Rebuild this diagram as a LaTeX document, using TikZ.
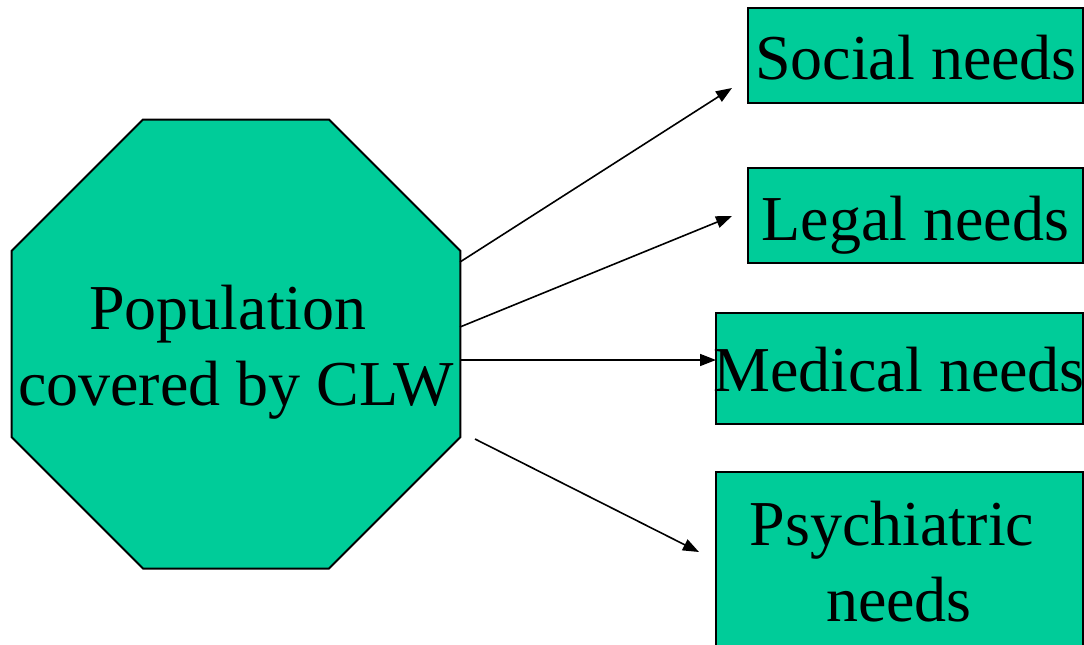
\documentclass[tikz,border=0pt]{standalone}
\usepackage{fontspec}
\setmainfont{Liberation Serif}
\usetikzlibrary{shapes.geometric,arrows.meta}
\definecolor{tealfill}{HTML}{00CC99}
\begin{document}
\begin{tikzpicture}[x=1pt,y=-1pt,
  shapebox/.style={draw=black,line width=2pt,fill=tealfill,inner sep=0pt,outer sep=0pt},
  lbl/.style={font=\fontsize{64}{76}\selectfont,inner sep=0pt,anchor=base},
  conn/.style={line width=1.6pt,-{Triangle[length=16pt,width=12pt]}}]
\clip (0,0) rectangle (1084,645);
% central octagon
\node[shapebox, regular polygon, regular polygon sides=8, minimum size=486pt] (oct) at (236,344) {};
\node[lbl] (pop1) at (228,329) {Population};
\node[lbl] (pop2) at (236,405) {covered by CLW};
% boxes
\node[shapebox, anchor=north west, minimum width=335pt, minimum height=95pt] (social) at (748,8) {};
\node[shapebox, anchor=north west, minimum width=335pt, minimum height=95pt] (legal) at (748,168) {};
\node[shapebox, anchor=north west, minimum width=367pt, minimum height=111pt] (medical) at (716,313) {};
\node[shapebox, anchor=north west, minimum width=367pt, minimum height=200pt] (psych) at (716,472) {};
\node[lbl] (socialtxt) at (916,79) {Social needs};
\node[lbl] (legaltxt) at (915.5,240) {Legal needs};
\node[lbl] (medicaltxt) at (899,391) {Medical needs};
\node[lbl] (psychtxt1) at (892,545) {Psychiatric};
\node[lbl] (psychtxt2) at (899,621) {needs};
% connector end points
\coordinate (a1s) at (460,262);
\coordinate (a1e) at (732,88);
\coordinate (a2s) at (460,327);
\coordinate (a2e) at (732,216);
\coordinate (a3s) at (460,360);
\coordinate (a3e) at (716,360);
\coordinate (a4s) at (475,439);
\coordinate (a4e) at (699,552);
\draw[conn] (a1s) -- (a1e);
\draw[conn] (a2s) -- (a2e);
\draw[conn] (a3s) -- (a3e);
\draw[conn] (a4s) -- (a4e);
\end{tikzpicture}
\end{document}
